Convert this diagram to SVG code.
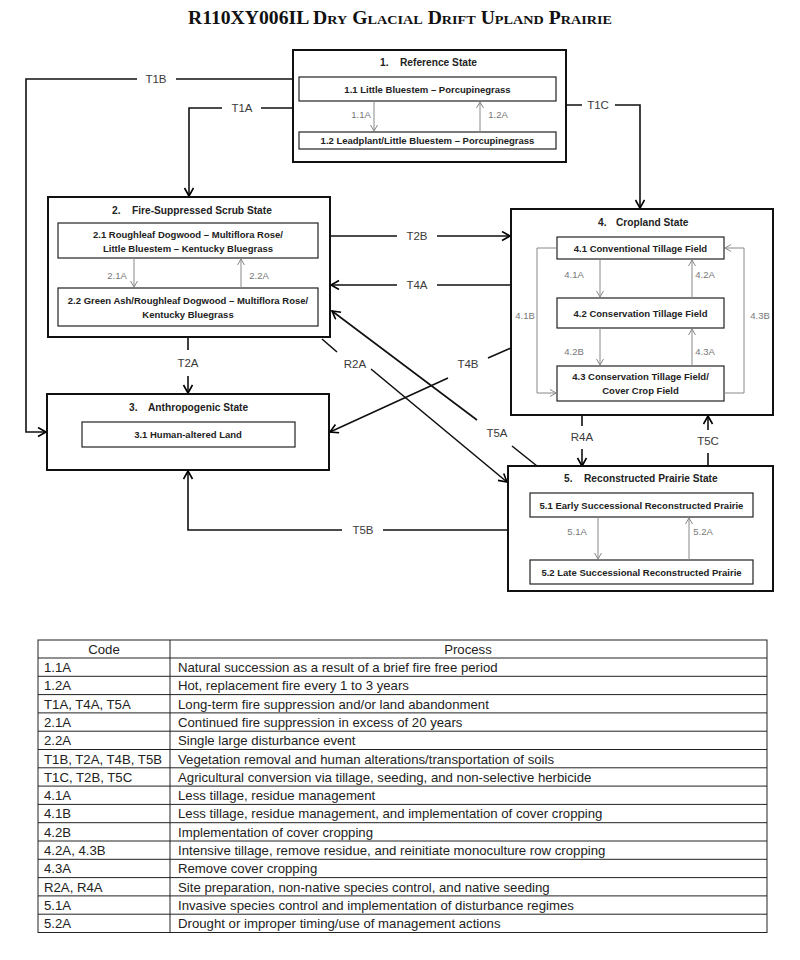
<svg xmlns="http://www.w3.org/2000/svg" width="800" height="960" viewBox="0 0 800 960">
<defs>
<marker id="ah" markerUnits="userSpaceOnUse" markerWidth="12" markerHeight="12" refX="9" refY="5" orient="auto">
<path d="M1,0.5 L9,5 L1,9.5" fill="none" stroke="#000" stroke-width="1.6"/>
</marker>
<marker id="ahg" markerUnits="userSpaceOnUse" markerWidth="10" markerHeight="10" refX="7" refY="4" orient="auto">
<path d="M1,0.5 L7,4 L1,7.5" fill="none" stroke="#888" stroke-width="1"/>
</marker>
</defs>
<style>
.bg{fill:#fff}
.outer{fill:#fff;stroke:#111;stroke-width:2}
.inner{fill:#fff;stroke:#222;stroke-width:1.2}
.st{font-family:"Liberation Sans",Arial,sans-serif;font-size:10.2px;font-weight:bold;fill:#222}
.ph{font-family:"Liberation Sans",Arial,sans-serif;font-size:9.5px;font-weight:bold;fill:#222;text-anchor:middle}
.il{font-family:"Liberation Sans",Arial,sans-serif;font-size:9.5px;fill:#777;text-anchor:middle}
.cl{font-family:"Liberation Sans",Arial,sans-serif;font-size:11.5px;fill:#3a3a3a;text-anchor:middle}
.con{fill:none;stroke:#111;stroke-width:1.6}
.ia{fill:none;stroke:#888;stroke-width:1}
.tb{fill:none;stroke:#222;stroke-width:1}
.tt{font-family:"Liberation Sans",Arial,sans-serif;font-size:13.2px;fill:#222}
.title{font-family:"Liberation Serif","Times New Roman",serif;font-weight:bold;font-size:18px;fill:#111;font-variant:small-caps}
</style>
<rect class="bg" x="0" y="0" width="800" height="960"/>
<text class="title" x="400" y="24" text-anchor="middle" textLength="424" lengthAdjust="spacingAndGlyphs">R110XY006IL Dry Glacial Drift Upland Prairie</text>

<g id="connectors">
<path class="con" d="M293,79 H176 M137,79 H26 V432 H46" marker-end="url(#ah)"/>
<path class="con" d="M293,108 H261 M222,108 H189 V196" marker-end="url(#ah)"/>
<path class="con" d="M566,105 H582 M615,105 H640 V208" marker-end="url(#ah)"/>
<path class="con" d="M330,236 H397 M437,236 H510" marker-end="url(#ah)"/>
<path class="con" d="M511,285 H437 M397,285 H331" marker-end="url(#ah)"/>
<path class="con" d="M188,337 V350 M188,376 V393" marker-end="url(#ah)"/>
<path class="con" d="M322,339 L337,352 M371,369 L507,482" marker-end="url(#ah)"/>
<path class="con" d="M537,466 L512,446 M477,420 L332,311" marker-end="url(#ah)"/>
<path class="con" d="M511,348 L488,358 M448,378 L330,432" marker-end="url(#ah)"/>
<path class="con" d="M582,415 V426 M582,449 V466" marker-end="url(#ah)"/>
<path class="con" d="M708,466 V453 M708,430 V416" marker-end="url(#ah)"/>
<path class="con" d="M508,530 H383 M342,530 H188 V471" marker-end="url(#ah)"/>
<text class="cl" x="156" y="83">T1B</text>
<text class="cl" x="242" y="112">T1A</text>
<text class="cl" x="598" y="109">T1C</text>
<text class="cl" x="417" y="240">T2B</text>
<text class="cl" x="417" y="289">T4A</text>
<text class="cl" x="188" y="367">T2A</text>
<text class="cl" x="355" y="368">R2A</text>
<text class="cl" x="497" y="437">T5A</text>
<text class="cl" x="468" y="368">T4B</text>
<text class="cl" x="582" y="441">R4A</text>
<text class="cl" x="708" y="445">T5C</text>
<text class="cl" x="363" y="534">T5B</text>
</g>

<g id="state1">
<rect class="outer" x="293" y="50" width="273" height="112"/>
<text class="st" y="66"><tspan x="380">1.</tspan><tspan x="400">Reference State</tspan></text>
<rect class="inner" x="299" y="77" width="257" height="24"/>
<text class="ph" x="427.5" y="92.5">1.1 Little Bluestem – Porcupinegrass</text>
<rect class="inner" x="299" y="132" width="257" height="17"/>
<text class="ph" x="427.5" y="144">1.2 Leadplant/Little Bluestem – Porcupinegrass</text>
<path class="ia" d="M374,101 V131" marker-end="url(#ahg)"/>
<path class="ia" d="M480,132 V102" marker-end="url(#ahg)"/>
<text class="il" x="361" y="118">1.1A</text>
<text class="il" x="498" y="118">1.2A</text>
</g>

<g id="state2">
<rect class="outer" x="48" y="197" width="282" height="140"/>
<text class="st" y="214"><tspan x="112">2.</tspan><tspan x="132">Fire-Suppressed Scrub State</tspan></text>
<rect class="inner" x="58" y="223" width="260" height="35"/>
<text class="ph" x="188" y="238">2.1 Roughleaf Dogwood – Multiflora Rose/</text>
<text class="ph" x="188" y="252">Little Bluestem – Kentucky Bluegrass</text>
<rect class="inner" x="58" y="288" width="260" height="38"/>
<text class="ph" x="188" y="304">2.2 Green Ash/Roughleaf Dogwood – Multiflora Rose/</text>
<text class="ph" x="188" y="318">Kentucky Bluegrass</text>
<path class="ia" d="M134,258 V287" marker-end="url(#ahg)"/>
<path class="ia" d="M241,288 V259" marker-end="url(#ahg)"/>
<text class="il" x="117" y="279">2.1A</text>
<text class="il" x="259" y="279">2.2A</text>
</g>

<g id="state3">
<rect class="outer" x="47" y="394" width="282" height="76"/>
<text class="st" y="411"><tspan x="129">3.</tspan><tspan x="148">Anthropogenic State</tspan></text>
<rect class="inner" x="82" y="422" width="213" height="25"/>
<text class="ph" x="188" y="438">3.1 Human-altered Land</text>
</g>

<g id="state4">
<rect class="outer" x="511" y="209" width="262" height="206"/>
<text class="st" y="226"><tspan x="598">4.</tspan><tspan x="616">Cropland State</tspan></text>
<rect class="inner" x="557" y="237" width="167" height="22"/>
<text class="ph" x="640.5" y="251.5">4.1 Conventional Tillage Field</text>
<rect class="inner" x="557" y="298" width="167" height="30"/>
<text class="ph" x="640.5" y="316.5">4.2 Conservation Tillage Field</text>
<rect class="inner" x="557" y="366" width="167" height="35"/>
<text class="ph" x="640.5" y="380">4.3 Conservation Tillage Field/</text>
<text class="ph" x="640.5" y="393.5">Cover Crop Field</text>
<path class="ia" d="M600,259 V297" marker-end="url(#ahg)"/>
<path class="ia" d="M692,298 V260" marker-end="url(#ahg)"/>
<path class="ia" d="M600,328 V365" marker-end="url(#ahg)"/>
<path class="ia" d="M692,366 V329" marker-end="url(#ahg)"/>
<path class="ia" d="M557,248 H537 V393 H556" marker-end="url(#ahg)"/>
<path class="ia" d="M724,393 H744 V248 H725" marker-end="url(#ahg)"/>
<text class="il" x="574" y="278">4.1A</text>
<text class="il" x="705" y="278">4.2A</text>
<text class="il" x="525" y="319">4.1B</text>
<text class="il" x="760" y="319">4.3B</text>
<text class="il" x="574" y="355">4.2B</text>
<text class="il" x="705" y="355">4.3A</text>
</g>

<g id="state5">
<rect class="outer" x="508" y="466" width="265" height="125"/>
<text class="st" y="482"><tspan x="564">5.</tspan><tspan x="584">Reconstructed Prairie State</tspan></text>
<rect class="inner" x="530" y="493" width="223" height="24"/>
<text class="ph" x="641.5" y="508.5">5.1 Early Successional Reconstructed Prairie</text>
<rect class="inner" x="530" y="560" width="223" height="24"/>
<text class="ph" x="641.5" y="575.5">5.2 Late Successional Reconstructed Prairie</text>
<path class="ia" d="M598,517 V559" marker-end="url(#ahg)"/>
<path class="ia" d="M689,560 V518" marker-end="url(#ahg)"/>
<text class="il" x="577" y="535">5.1A</text>
<text class="il" x="703" y="535">5.2A</text>
</g>

<g id="table">
<rect class="tb" x="38" y="640" width="729" height="292.5"/>
<path class="tb" d="M170,640 V932.5 M38,658 H767 M38,676.3 H767 M38,694.6 H767 M38,712.9 H767 M38,731.2 H767 M38,749.5 H767 M38,767.8 H767 M38,786.1 H767 M38,804.4 H767 M38,822.7 H767 M38,841 H767 M38,859.3 H767 M38,877.6 H767 M38,895.9 H767 M38,914.2 H767"/>
<text class="tt" x="104" y="653.5" text-anchor="middle">Code</text>
<text class="tt" x="468" y="653.5" text-anchor="middle">Process</text>
<g class="tt">
<text x="44" y="672">1.1A</text><text x="178" y="672">Natural succession as a result of a brief fire free period</text>
<text x="44" y="690.3">1.2A</text><text x="178" y="690.3">Hot, replacement fire every 1 to 3 years</text>
<text x="44" y="708.6">T1A, T4A, T5A</text><text x="178" y="708.6">Long-term fire suppression and/or land abandonment</text>
<text x="44" y="726.9">2.1A</text><text x="178" y="726.9">Continued fire suppression in excess of 20 years</text>
<text x="44" y="745.2">2.2A</text><text x="178" y="745.2">Single large disturbance event</text>
<text x="44" y="763.5">T1B, T2A, T4B, T5B</text><text x="178" y="763.5">Vegetation removal and human alterations/transportation of soils</text>
<text x="44" y="781.8">T1C, T2B, T5C</text><text x="178" y="781.8">Agricultural conversion via tillage, seeding, and non-selective herbicide</text>
<text x="44" y="800.1">4.1A</text><text x="178" y="800.1">Less tillage, residue management</text>
<text x="44" y="818.4">4.1B</text><text x="178" y="818.4">Less tillage, residue management, and implementation of cover cropping</text>
<text x="44" y="836.7">4.2B</text><text x="178" y="836.7">Implementation of cover cropping</text>
<text x="44" y="855">4.2A, 4.3B</text><text x="178" y="855">Intensive tillage, remove residue, and reinitiate monoculture row cropping</text>
<text x="44" y="873.3">4.3A</text><text x="178" y="873.3">Remove cover cropping</text>
<text x="44" y="891.6">R2A, R4A</text><text x="178" y="891.6">Site preparation, non-native species control, and native seeding</text>
<text x="44" y="909.9">5.1A</text><text x="178" y="909.9">Invasive species control and implementation of disturbance regimes</text>
<text x="44" y="928.2">5.2A</text><text x="178" y="928.2">Drought or improper timing/use of management actions</text>
</g>
</g>
</svg>
